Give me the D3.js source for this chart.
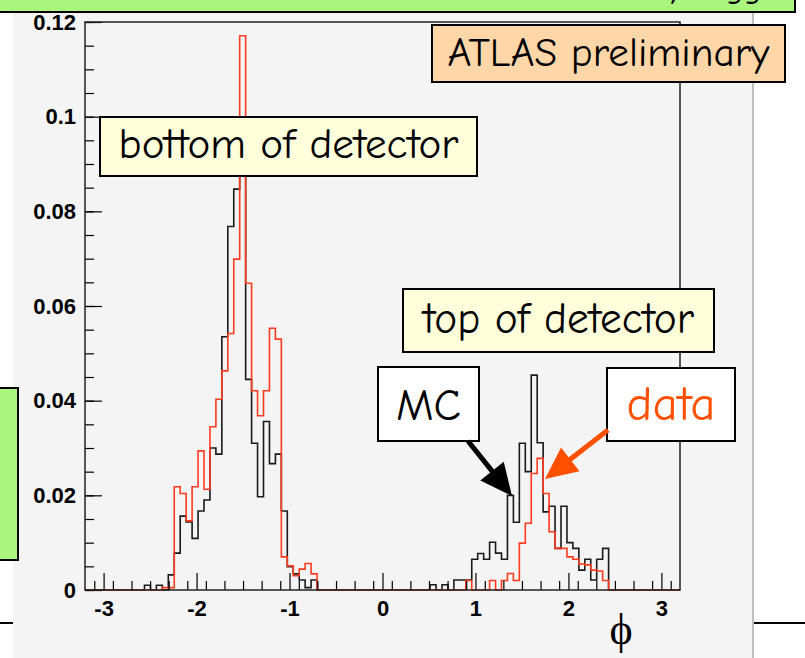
<!DOCTYPE html>
<html>
<head>
<meta charset="utf-8">
<script src="https://cdn.jsdelivr.net/npm/d3@7"></script>
<style>
	body { margin: 0; background: #ffffff; }
	svg { display: block; }
	.tickLabel { font-family: "Liberation Sans", Arial, Helvetica, sans-serif; font-weight: bold; font-size: 22px; fill: #000; }
	.note { font-family: "Comic Sans MS", "Comic Neue", "Noto Sans", sans-serif; }
</style>
</head>
<body>
<div id="chart"></div>
<script>
// Histogram range and binning (phi, 100 bins from -3.2 to 3.2)
var xRange = [-3.2, 3.2];
var nBins = 100;
var yRange = [0, 0.12];

// Tick values
var xTicks = [-3, -2, -1, 0, 1, 2, 3];
var yTicks = [0, 0.02, 0.04, 0.06, 0.08, 0.1, 0.12];

// MC (black) normalised bin contents
var mcValues = [
	0, 0, 0, 0, 0, 0, 0, 0, 0, 0,
	0.0010, 0, 0.0010, 0, 0.0032, 0.0078, 0.0156, 0.0144, 0.0109, 0.0167,
	0.0190, 0.0300, 0.0287, 0.0535, 0.0768, 0.0847, 0.0950, 0.0445, 0.0310, 0.0197,
	0.0356, 0.0267, 0.0287, 0.0167, 0.0049, 0.0034, 0.0021, 0.0005, 0.0021, 0,
	0, 0, 0, 0, 0, 0, 0, 0, 0, 0,
	0, 0, 0, 0, 0, 0, 0, 0, 0.0011, 0,
	0.0011, 0, 0.0021, 0.0021, 0.0021, 0.0065, 0.0077, 0.0065, 0.0101, 0.0078,
	0.0065, 0.0200, 0.0143, 0.0310, 0.0250, 0.0454, 0.0311, 0.0165, 0.0177, 0.0088,
	0.0177, 0.0100, 0.0088, 0.0042, 0.0065, 0.0021, 0.0065, 0.0088, 0, 0,
	0, 0, 0, 0, 0, 0, 0, 0, 0, 0
];

// Data (red) normalised bin contents
var dataValues = [
	0, 0, 0, 0, 0, 0, 0, 0, 0, 0,
	0, 0, 0, 0.0005, 0.0005, 0.0218, 0.0204, 0.0146, 0.0218, 0.0294,
	0.0213, 0.0345, 0.0403, 0.0463, 0.0542, 0.0699, 0.1171, 0.0648, 0.0421, 0.0368,
	0.0421, 0.0553, 0.0530, 0.0070, 0.0051, 0.0030, 0.0044, 0.0056, 0.0034, 0,
	0, 0, 0, 0, 0, 0, 0, 0, 0, 0,
	0, 0, 0, 0, 0, 0, 0, 0, 0, 0,
	0, 0, 0, 0, 0.0020, 0, 0, 0, 0.0020, 0,
	0.0020, 0.0035, 0.0020, 0.0099, 0.0141, 0.0246, 0.0278, 0.0204, 0.0123, 0.0088,
	0.0088, 0.0070, 0.0065, 0.0055, 0.0053, 0.0042, 0.0040, 0.0020, 0, 0,
	0, 0, 0, 0, 0, 0, 0, 0, 0, 0
];

var svgWidth = 805;
var svgHeight = 658;

var svg = d3.select('#chart').append('svg').attr('width', svgWidth).attr('height', svgHeight);

// Slide background lines behind the canvas
svg.append('line').attr('x1', 0).attr('x2', svgWidth).attr('y1', 623).attr('y2', 623)
	.attr('stroke', '#000').attr('stroke-width', 2);

// ROOT canvas (light grey) with its right edge
svg.append('rect').attr('x', 13).attr('y', 10).attr('width', 740).attr('height', 660).attr('fill', '#f4f4f4');
svg.append('line').attr('x1', 753).attr('x2', 753).attr('y1', 10).attr('y2', svgHeight)
	.attr('stroke', '#bdbdbd').attr('stroke-width', 2);

// Frame
var frame = { left: 85, right: 680, top: 22, bottom: 590 };

var xScale = d3.scaleLinear().domain(xRange).range([frame.left, frame.right]);
var yScale = d3.scaleLinear().domain(yRange).range([frame.bottom, frame.top]);

var chartGroup = svg.append('g');

// Histogram outline: step line through the bin edges
var binWidth = (xRange[1] - xRange[0]) / nBins;
function stepPoints(values) {
	var pts = values.map((v, i) => [xRange[0] + i * binWidth, v]);
	pts.push([xRange[1], values[values.length - 1]]);
	return pts;
}
var stepLine = d3.line()
	.x((d) => xScale(d[0]))
	.y((d) => yScale(d[1]))
	.curve(d3.curveStepAfter);

chartGroup.append('path')
	.attr('d', stepLine(stepPoints(mcValues)))
	.attr('fill', 'none')
	.attr('stroke', '#1a1a1a')
	.attr('stroke-width', 1.6);

chartGroup.append('path')
	.attr('d', stepLine(stepPoints(dataValues)))
	.attr('fill', 'none')
	.attr('stroke', '#ff3b1f')
	.attr('stroke-width', 1.6);

// Axes with inward ticks, ROOT style
var numFmt = (d) => String(Math.round(d * 100) / 100);

var bottomAxis = d3.axisBottom(xScale).tickValues(xTicks).tickSizeInner(-17).tickSizeOuter(0).tickPadding(10).tickFormat(numFmt);
var bottomMinor = d3.axisBottom(xScale).tickValues(d3.range(-31, 32, 2).map((d) => d / 10)).tickSizeInner(-9).tickSizeOuter(0).tickFormat('');
var leftAxis = d3.axisLeft(yScale).tickValues(yTicks).tickSizeInner(-17).tickSizeOuter(0).tickPadding(9).tickFormat(numFmt);
var leftMinor = d3.axisLeft(yScale).tickValues(d3.range(0, 25).map((d) => d * 0.005)).tickSizeInner(-9).tickSizeOuter(0).tickFormat('');

[bottomMinor, bottomAxis].forEach(function(ax) {
	var g = chartGroup.append('g').attr('transform', `translate(0, ${frame.bottom})`).call(ax);
	g.select('.domain').remove();
	g.selectAll('line').attr('stroke', '#000').attr('stroke-width', 1.2);
	g.selectAll('text').attr('class', 'tickLabel').attr('font-family', null).attr('font-size', null);
});
[leftMinor, leftAxis].forEach(function(ax) {
	var g = chartGroup.append('g').attr('transform', `translate(${frame.left}, 0)`).call(ax);
	g.select('.domain').remove();
	g.selectAll('line').attr('stroke', '#000').attr('stroke-width', 1.2);
	g.selectAll('text').attr('class', 'tickLabel').attr('font-family', null).attr('font-size', null);
});

// Frame border
chartGroup.append('rect')
	.attr('x', frame.left).attr('y', frame.top)
	.attr('width', frame.right - frame.left).attr('height', frame.bottom - frame.top)
	.attr('fill', 'none').attr('stroke', '#222').attr('stroke-width', 1.5);

// Axis title
svg.append('text')
	.attr('x', 621).attr('y', 644)
	.attr('text-anchor', 'middle')
	.attr('font-family', '"Liberation Serif", "DejaVu Serif", serif')
	.attr('font-size', 44)
	.attr('fill', '#000')
	.text('\u03d5');

// Slide boxes around the plot (the title box is mostly above the visible area)
svg.append('rect').attr('x', -4).attr('y', -40).attr('width', 799).attr('height', 52)
	.attr('fill', '#a9f57d').attr('stroke', '#000').attr('stroke-width', 2);
svg.append('text').attr('class', 'note').attr('x', 792).attr('y', -2).attr('text-anchor', 'end')
	.attr('font-size', 34).attr('fill', '#000').text('selected by trigger');
svg.append('rect').attr('x', -4).attr('y', 388).attr('width', 22).attr('height', 172)
	.attr('fill', '#a9f57d').attr('stroke', '#000').attr('stroke-width', 2);

// Annotation boxes
var notes = [
	{ text: 'ATLAS preliminary', x0: 432, y0: 25, x1: 785, y1: 82, fill: '#ffd6a8', color: '#000', w: 322, base: 66 },
	{ text: 'bottom of detector', x0: 100, y0: 117, x1: 477, y1: 176, fill: '#ffffdb', color: '#000', w: 340, base: 158 },
	{ text: 'top of detector', x0: 403, y0: 289, x1: 714, y1: 352, fill: '#ffffdb', color: '#000', w: 271, base: 333 },
	{ text: 'MC', x0: 378, y0: 367, x1: 479, y1: 441, fill: '#ffffff', color: '#000', w: 65, base: 420 },
	{ text: 'data', x0: 607, y0: 368, x1: 735, y1: 441, fill: '#ffffff', color: '#ff5000', w: 89, base: 420 }
];

notes.forEach(function(n) {
	svg.append('rect')
		.attr('x', n.x0).attr('y', n.y0).attr('width', n.x1 - n.x0).attr('height', n.y1 - n.y0)
		.attr('fill', n.fill).attr('stroke', '#000').attr('stroke-width', 2);
	var t = svg.append('text')
		.attr('class', 'note')
		.attr('x', (n.x0 + n.x1) / 2).attr('y', n.base)
		.attr('text-anchor', 'middle')
		.attr('font-size', 32)
		.attr('fill', n.color)
		.text(n.text);
	// scale the font so the text has the same width as in the slide
	var w = t.node().getComputedTextLength();
	t.attr('font-size', 32 * n.w / w);
});

// Arrows from the labels to the histograms
function arrow(x0, y0, x1, y1, color) {
	var dx = x1 - x0, dy = y1 - y0;
	var len = Math.sqrt(dx * dx + dy * dy);
	var ux = dx / len, uy = dy / len;
	var headLen = 32, headHalf = 15;
	var bx = x1 - ux * headLen, by = y1 - uy * headLen;
	svg.append('line')
		.attr('x1', x0).attr('y1', y0).attr('x2', bx + ux * 4).attr('y2', by + uy * 4)
		.attr('stroke', color).attr('stroke-width', 5);
	svg.append('polygon')
		.attr('points', [[x1, y1], [bx - uy * headHalf, by + ux * headHalf], [bx + uy * headHalf, by - ux * headHalf]].map((p) => p.join(',')).join(' '))
		.attr('fill', color);
}
arrow(468, 441, 512, 496, '#000');
arrow(608, 430, 545, 479, '#ff5000');
</script>
</body>
</html>
